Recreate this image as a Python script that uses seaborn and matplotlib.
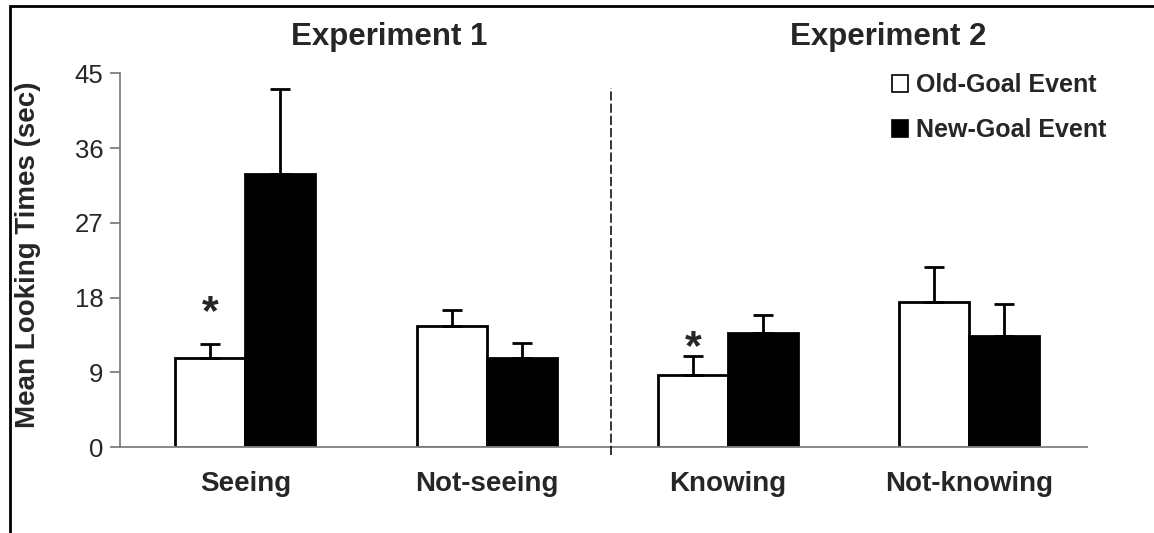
import matplotlib
matplotlib.use("Agg")
import matplotlib.pyplot as plt
from matplotlib.patches import Patch, Rectangle
import pandas as pd
import seaborn as sns

conditions = ["Seeing", "Not-seeing", "Knowing", "Not-knowing"]
events = ["Old-Goal Event", "New-Goal Event"]
old_goal = [10.7, 14.6, 8.7, 17.5]
new_goal = [32.9, 10.7, 13.7, 13.4]
old_se = [1.7, 1.9, 2.3, 4.2]
new_se = [10.2, 1.9, 2.2, 3.9]
# asterisk centres (sec), None = no mark
star_y = [17.1, None, 12.9, None]
experiments = ["Experiment 1", "Experiment 2"]
y_ticks = [0, 9, 18, 27, 36, 45]

sns.set_style("white")
plt.rcParams["font.family"] = ["Liberation Sans", "DejaVu Sans"]

df = pd.DataFrame({
    "condition": conditions * 2,
    "event": [events[0]] * 4 + [events[1]] * 4,
    "time": old_goal + new_goal,
    "se": old_se + new_se,
})

fig = plt.figure(figsize=(11.54, 5.33), dpi=100)
ax = fig.add_axes([0.104, 0.1608, 0.838, 0.7017])

sns.barplot(data=df, x="condition", y="time", hue="event", order=conditions,
            hue_order=events, palette={events[0]: "white", events[1]: "black"},
            edgecolor="black", linewidth=2, width=0.58, errorbar=None,
            legend=False, ax=ax)

# one-sided error bars on top of each bar
for container, ev in zip(ax.containers, events):
    errs = df[df["event"] == ev]["se"].tolist()
    for bar, e in zip(container, errs):
        cx = bar.get_x() + bar.get_width() / 2
        h = bar.get_height()
        ax.errorbar(cx, h, yerr=[[0], [e]], fmt="none", ecolor="black",
                    elinewidth=2, capsize=7, capthick=2, zorder=1)

for i, sy in enumerate(star_y):
    if sy is not None:
        bar = ax.containers[0][i]
        ax.text(bar.get_x() + bar.get_width() / 2, sy - 2.3, "*",
                ha="center", va="baseline", fontsize=31, fontweight="bold")

ax.set_xlim(-0.52, 3.49)
ax.set_ylim(0, 45)
ax.set_yticks(y_ticks)
ax.set_yticklabels([str(t) for t in y_ticks], fontsize=18.5)
ax.set_xticks(range(len(conditions)))
ax.set_xticklabels(conditions, fontsize=20, fontweight="bold")
ax.set_xticks([-0.52, 0.5, 1.5, 2.5, 3.49], minor=True)
ax.tick_params(axis="x", which="major", length=0, pad=17)
ax.tick_params(axis="x", which="minor", length=7, width=1.3,
               color="#808080", direction="out")
ax.tick_params(axis="y", length=7, width=1.3, color="#808080",
               direction="out", pad=5, left=True)
ax.set_xlabel("")
ax.set_ylabel("Mean Looking Times (sec)", fontsize=20, fontweight="bold")
ax.yaxis.set_label_coords(-0.082, 0.515)

for side in ["top", "right"]:
    ax.spines[side].set_visible(False)
for side in ["left", "bottom"]:
    ax.spines[side].set_color("#808080")
    ax.spines[side].set_linewidth(1.3)

# divider between experiments
ax.plot([1.515, 1.515], [-0.9, 43.2], color="black", lw=1.1,
        linestyle=(0, (6, 2)), clip_on=False, zorder=5)

fig.text(0.337, 0.916, experiments[0], ha="center", va="baseline",
         fontsize=22.5, fontweight="bold")
fig.text(0.770, 0.916, experiments[1], ha="center", va="baseline",
         fontsize=22.5, fontweight="bold")

handles = [Patch(facecolor="white", edgecolor="black", linewidth=1.2),
           Patch(facecolor="black", edgecolor="black", linewidth=1.2)]
leg = fig.legend(handles, events, loc="upper left",
                 bbox_to_anchor=(892 / 1154, 1 - 73 / 533), frameon=False,
                 borderpad=0, borderaxespad=0, handlelength=0.65,
                 handleheight=0.65, handletextpad=0.3, labelspacing=0.85,
                 prop={"size": 18, "weight": "bold"})

# outer frame (right/bottom edges fall outside the picture)
fig.patches.append(Rectangle((10 / 1154, -0.1), 1.2, 1.1 - 6 / 533,
                             transform=fig.transFigure, fill=False,
                             edgecolor="black", linewidth=2))

fig.savefig("out.png", dpi=100)
